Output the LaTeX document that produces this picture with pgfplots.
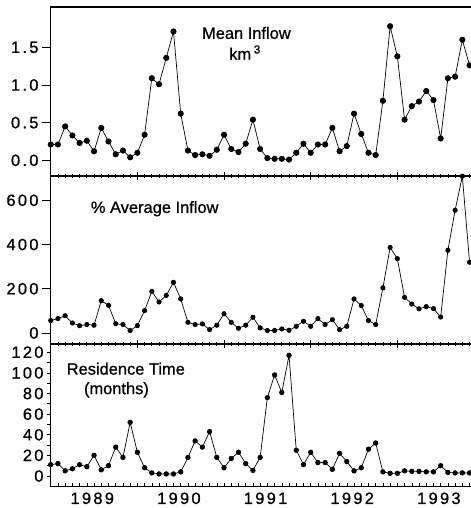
\documentclass[border=0pt]{standalone}
\usepackage{fontspec}
\setmainfont{Liberation Sans}[FakeBold=0.8]
\newfontfamily\tickfont{Liberation Sans}[LetterSpace=14,FakeBold=0.8]
\usepackage{pgfplots}
\usepackage{pgfplotstable}
\pgfplotsset{compat=1.18}
\pgfplotstableread{
i q p r
0 0.21 56 11
1 0.21 65 12
2 0.45 78 5
3 0.33 45 7
4 0.23 33 11
5 0.26 38 9
6 0.12 35 20
7 0.43 146 6
8 0.25 125 10
9 0.08 42 28
10 0.13 38 18
11 0.04 11 52
12 0.10 33 23
13 0.34 101 8
14 1.09 188 3
15 1.01 140 2
16 1.36 170 2
17 1.71 229 2
18 0.62 154 4
19 0.13 48 18
20 0.07 38 34
21 0.08 41 28
22 0.06 15 43
23 0.14 35 18
24 0.34 87 8
25 0.15 48 17
26 0.11 21 23
27 0.22 35 12
28 0.54 71 5.5
29 0.15 23 18
30 0.03 11 76
31 0.02 11 98
32 0.02 18 81
33 0.01 12 117
34 0.10 30 25
35 0.22 53 11
36 0.10 30 23
37 0.21 65 13
38 0.21 38 13
39 0.43 60 6.5
40 0.12 15 22
41 0.19 30 14
42 0.62 154 5
43 0.35 124 8
44 0.10 56 26
45 0.07 38 32
46 0.79 204 4
47 1.78 387 2.6
48 1.38 336 2.6
49 0.54 161 5
50 0.72 131 4.5
51 0.78 109 4.5
52 0.92 119 4
53 0.80 110 4
54 0.29 72 10
55 1.09 374 3.5
56 1.11 555 3
57 1.60 709 3
58 1.26 320 3
}\data
\begin{document}
\begin{tikzpicture}
\pgfplotsset{
  every non boxed y axis/.style={},
  every non boxed x axis/.style={},
  panel/.style={
    scale only axis, width=421bp, anchor=south west,
    xmin=-0.1, xmax=58.2, enlargelimits=false,
    axis x line=box, axis y line=left,
    y axis line style={line width=0.9pt,-},
    x axis line style={line width=1.4pt,-},
    xtick={12,24,36,48}, xticklabels={}, minor xtick={0,...,58},
    xtick pos=bottom, ytick pos=left, xtick align=center, ytick align=outside,
    major tick length=8bp, minor tick length=4bp,
    every tick/.style={black, line width=0.8pt},
    ticklabel style={font=\tickfont\fontsize{16.5}{18}\selectfont},
    /pgf/number format/assume math mode=true,
  },
  series/.style={black, line width=0.7pt, mark=*, mark size=#1, mark options={solid}},
}
\begin{axis}[panel, at={(50bp,332bp)}, height=169bp,
  ymin=-0.208, ymax=2.035, ytick={0,0.5,1,1.5},
  yticklabel style={/pgf/number format/.cd, fixed, fixed zerofill, precision=1}]
\addplot[series=2.7pt] table[x=i,y=q]{\data};
\node[font=\fontsize{16.5}{18}\selectfont] at (axis cs:27.1,1.69) {Mean Inflow};
\node[font=\fontsize{16.5}{18}\selectfont] at (axis cs:26.9,1.43) {km\,$^{\mathrm{3}}$};
\end{axis}
\begin{axis}[panel, at={(50bp,164bp)}, height=168bp,
  ymin=-50, ymax=710, ytick={0,200,400,600}]
\addplot[series=2.2pt] table[x=i,y=p]{\data};
\node[font=\fontsize{16.5}{18}\selectfont] at (axis cs:14.4,562) {\% Average Inflow};
\end{axis}
\begin{axis}[panel, at={(50bp,22bp)}, height=142bp,
  ymin=-9.7, ymax=128, ytick={0,20,...,120}, minor ytick={10,30,...,110},
  xtick align=inside, major tick length=3bp, minor tick length=3bp,
  x axis line style={line width=0.8pt,-},
  every tick/.style={black, line width=0.5pt},
  every minor y tick/.style={black, line width=0.8pt},
  extra x ticks={5.75,17.75,29.75,41.75,53.75},
  extra x tick labels={1989,1990,1991,1992,1993},
  extra x tick style={major tick length=0pt, xticklabel style={yshift=-3bp}}]
\addplot[series=2.3pt] table[x=i,y=r]{\data};
\node[font=\fontsize{16.5}{18}\selectfont] at (axis cs:10.4,104) {Residence Time};
\node[font=\fontsize{16.5}{18}\selectfont] at (axis cs:9.1,83.5) {(months)};
\end{axis}
\pgfresetboundingbox
\path (0bp,0bp) rectangle (471bp,508bp);
\end{tikzpicture}
\end{document}
